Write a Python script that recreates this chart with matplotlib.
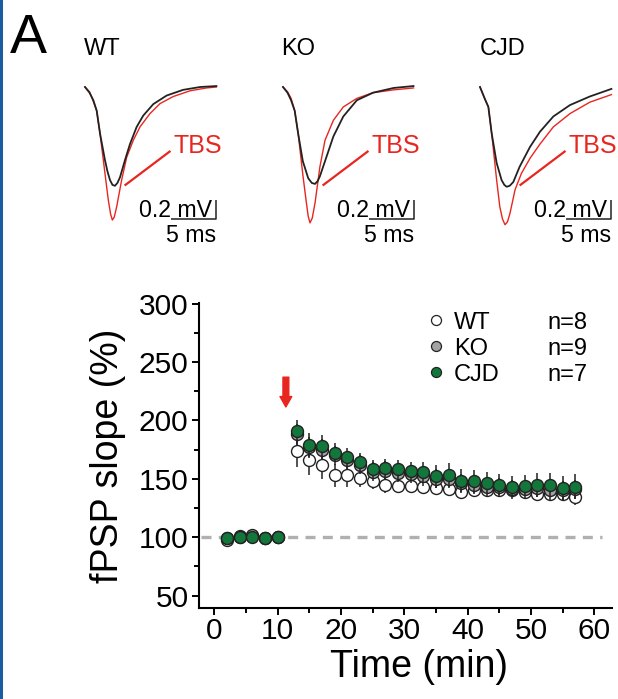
import matplotlib
matplotlib.use('Agg')
import matplotlib.pyplot as plt
from matplotlib.lines import Line2D

plt.rcParams['font.family'] = ['Liberation Sans', 'DejaVu Sans']

# ── example traces (ms, mV) ────────────────────────────────────────────
WT_T_CTRL = [0, 0.5, 0.93, 1.3, 1.67, 2.22, 2.5, 2.78, 3.05, 3.33, 3.6, 3.89,
             4.44, 5.0, 5.74, 6.48, 7.59, 9.07, 10.9, 12.8, 14.6]
WT_V_CTRL = [0, -0.06, -0.14, -0.25, -0.49, -0.77, -0.89, -0.98, -1.03, -1.04,
             -1.01, -0.95, -0.77, -0.6, -0.42, -0.3, -0.18, -0.09, -0.03, 0.0,
             0.01]
WT_T_TBS = [0, 0.5, 0.74, 1.3, 1.67, 2.22, 2.59, 2.85, 3.04, 3.25, 3.52, 4.07,
            4.63, 5.37, 6.11, 7.22, 8.33, 9.81, 11.67, 13.5, 14.6]
WT_V_TBS = [0, -0.05, -0.105, -0.25, -0.49, -0.91, -1.19, -1.34, -1.40, -1.37,
            -1.26, -0.98, -0.74, -0.56, -0.42, -0.28, -0.175, -0.1, -0.04,
            -0.01, 0.0]

KO_T_CTRL = [0, 0.5, 0.9, 1.3, 1.7, 2.2, 2.8, 3.2, 3.56, 3.85, 4.1, 4.85, 5.6,
             6.7, 8.2, 10.0, 12.3, 14.5]
KO_V_CTRL = [0, -0.06, -0.14, -0.25, -0.5, -0.78, -0.96, -1.01, -1.02, -0.99,
             -0.94, -0.73, -0.52, -0.31, -0.14, -0.06, -0.01, 0.01]
KO_T_TBS = [0, 0.5, 0.9, 1.3, 1.7, 2.2, 2.6, 2.8, 3.0, 3.25, 3.56, 4.1, 4.67,
            5.6, 6.7, 8.2, 10.0, 12.3, 14.5]
KO_V_TBS = [0, -0.05, -0.12, -0.25, -0.5, -0.92, -1.22, -1.36, -1.43, -1.38,
            -1.22, -0.84, -0.56, -0.35, -0.21, -0.12, -0.06, -0.03, -0.01]

CJD_T_CTRL = [0, 0.56, 0.93, 1.3, 1.85, 2.4, 2.7, 2.96, 3.3, 3.7, 4.4, 5.56,
              6.67, 8.15, 10.0, 12.2, 14.6]
CJD_V_CTRL = [0, -0.13, -0.21, -0.49, -0.8, -0.98, -1.03, -1.05, -1.04, -1.0,
              -0.84, -0.63, -0.47, -0.31, -0.19, -0.1, -0.02]
CJD_T_TBS = [0, 0.56, 0.93, 1.3, 1.85, 2.2, 2.5, 2.78, 3.05, 3.33, 3.9, 4.6,
             5.56, 6.67, 8.15, 10.0, 12.2, 14.6]
CJD_V_TBS = [0, -0.13, -0.21, -0.49, -0.98, -1.26, -1.39, -1.45, -1.42, -1.33,
             -1.08, -0.91, -0.75, -0.6, -0.42, -0.28, -0.16, -0.08]

PANEL_NAMES = ['WT', 'KO', 'CJD']
PANEL_X0 = [85, 283, 480]           # trace start, pixels
PANEL_TITLE_DX = [-0.1, -0.22, 0.0]  # ms

# ── time course ─────────────────────────────────────────────────────────
TIME = [2, 4, 6, 8, 10, 13, 15, 17, 19, 21, 23, 25, 27, 29, 31, 33, 35, 37,
        39, 41, 43, 45, 47, 49, 51, 53, 55, 57]
WT_MEAN = [98, 100, 101, 99, 100, 174, 166, 162, 153, 153, 151, 148, 145, 144,
           144, 143, 142, 141, 139, 140, 140, 140, 140, 139, 137, 137, 137, 134]
WT_SEM = [2, 2, 2, 2, 2, 14, 13, 12, 10, 10, 8, 7, 7, 6, 6, 6, 6, 6, 6, 5, 5,
          5, 5, 5, 5, 5, 5, 6]
KO_MEAN = [99, 101, 102, 99, 100, 188, 177, 175, 170, 166, 162, 156, 157, 155,
           154, 152, 150, 150, 146, 145, 143, 143, 141, 141, 142, 140, 140, 141]
KO_SEM = [2, 2, 2, 2, 2, 9, 9, 9, 8, 8, 8, 8, 8, 8, 8, 8, 8, 8, 8, 8, 8, 8,
          8, 8, 8, 8, 8, 8]
CJD_MEAN = [99, 100, 100, 99, 100, 190.5, 179, 177.7, 172.5, 168.6, 164, 158.5,
            159, 158.2, 156.8, 155.4, 152.2, 153.3, 148.5, 147.7, 146.8, 144.8,
            143.4, 144, 144.8, 144.8, 142, 143.4]
CJD_SEM = [2, 2, 2, 2, 2, 9.5, 10, 10, 8.5, 8, 8, 8, 8, 8, 8, 9, 10, 10, 9.5,
           9.5, 9, 9, 9, 9, 10, 10, 10, 11]
N_CELLS = [8, 9, 7]
TBS_TIME = 11.3

RED = '#e8261f'
GREEN = '#13773b'
GREY = '#a3a3a3'
W, H = 618, 699

fig = plt.figure(figsize=(W / 100, H / 100), dpi=100, facecolor='white')

# blue frame edge on the left
fig.add_artist(Line2D([0.002, 0.002], [0, 1], color='#1b5c9e', lw=2.2,
                      transform=fig.transFigure))
fig.text(10 / W, 1 - 53 / H, 'A', fontsize=40, va='baseline', ha='left')

traces = [(WT_T_CTRL, WT_V_CTRL, WT_T_TBS, WT_V_TBS),
          (KO_T_CTRL, KO_V_CTRL, KO_T_TBS, KO_V_TBS),
          (CJD_T_CTRL, CJD_V_CTRL, CJD_T_TBS, CJD_V_TBS)]

# ── example fEPSP panels (9 px / ms, 95 px / mV) ───────────────────────
for name, x0, dx, (tc, vc, tt, vt) in zip(PANEL_NAMES, PANEL_X0,
                                          PANEL_TITLE_DX, traces):
    ax = fig.add_axes([(x0 - 6) / W, 1 - 248 / H, 146 / W, 220 / H])
    ax.set_xlim(-6 / 9, 140 / 9)
    ax.set_ylim(-(248 - 87) / 95, -(28 - 87) / 95)
    ax.axis('off')
    ax.plot(tt, vt, color=RED, lw=1.0, zorder=2, solid_joinstyle='round')
    ax.plot(tc, vc, color='#222222', lw=1.3, zorder=3,
            solid_joinstyle='round')
    ax.text(dx, 0.337, name, fontsize=17, va='baseline', ha='left')
    ax.text(9.8, -0.695, 'TBS', fontsize=18, color=RED, va='baseline')
    ax.plot([4.5, 9.4], [-1.03, -0.68], color=RED, lw=1.6)
    # scale bar
    ax.plot([9.56, 14.56, 14.56], [-1.39, -1.39, -1.19], color='#222222',
            lw=1.1, solid_capstyle='butt')
    ax.text(14.1, -1.368, '0.2 mV', fontsize=16.7, ha='right', va='baseline')
    ax.text(14.56, -1.63, '5 ms', fontsize=16.7, ha='right', va='baseline')

# ── LTP time course ─────────────────────────────────────────────────────
ax = fig.add_axes([199 / W, 1 - 608 / H, 413 / W, 305 / H])
ax.set_xlim(-2.42, 62.8)
ax.set_ylim(39.4, 300.5)

ax.axhline(100, xmin=0.005, xmax=0.975, color='#b0b0b0', lw=2.4,
           dashes=(3, 2.2), zorder=1)

series = [(WT_MEAN, WT_SEM, 'white'), (KO_MEAN, KO_SEM, GREY),
          (CJD_MEAN, CJD_SEM, GREEN)]
handles = []
for k, (mean, sem, face) in enumerate(series):
    ax.errorbar(TIME, mean, yerr=sem, fmt='none', ecolor='#222222',
                elinewidth=1.1, capsize=0, zorder=2 + 2 * k)
    ax.plot(TIME, mean, ls='none', marker='o', ms=8.6, mfc=face,
            mec='#222222', mew=1.0, zorder=3 + 2 * k)
    handles.append(Line2D([], [], ls='none', marker='o', ms=7.2, mfc=face,
                          mec='#222222', mew=0.9))

ax.annotate('', xy=(TBS_TIME, 211.5), xytext=(TBS_TIME, 237),
            arrowprops=dict(arrowstyle='simple,head_length=0.75,'
                                       'head_width=0.85,tail_width=0.42',
                            color=RED, mutation_scale=10,
                            shrinkA=0, shrinkB=0))

leg1 = ax.legend(handles, PANEL_NAMES, loc='upper left',
                 bbox_to_anchor=(0.557, 0.972), frameon=False, fontsize=17,
                 handlelength=0.6, handletextpad=0.45, labelspacing=0.17,
                 borderpad=0, borderaxespad=0)
ax.add_artist(leg1)
blank = [Line2D([], [], ls='none') for _ in N_CELLS]
ax.legend(blank, [f'n={n}' for n in N_CELLS], loc='upper left',
          bbox_to_anchor=(0.843, 0.972), frameon=False, fontsize=17,
          handlelength=0, handletextpad=0, labelspacing=0.17,
          borderpad=0, borderaxespad=0)

for side in ('top', 'right'):
    ax.spines[side].set_visible(False)
for side in ('left', 'bottom'):
    ax.spines[side].set_linewidth(1.5)

ax.set_xticks(range(0, 61, 10))
ax.set_xticks(range(5, 61, 10), minor=True)
ax.set_yticks(range(50, 301, 50))
ax.set_yticks(range(75, 300, 50), minor=True)
ax.tick_params(axis='both', which='major', labelsize=21.5, width=1.4,
               length=5)
ax.tick_params(axis='both', which='minor', width=1.4, length=3.5)
ax.tick_params(axis='x', which='major', pad=1.5)
ax.tick_params(axis='y', which='major', pad=2.5)

ax.set_ylabel('fPSP slope (%)', fontsize=27, labelpad=9)
ax.set_xlabel('Time (min)', fontsize=27, labelpad=3)
ax.xaxis.label.set_x(0.533)

fig.savefig('out.png', dpi=100, facecolor='white')
